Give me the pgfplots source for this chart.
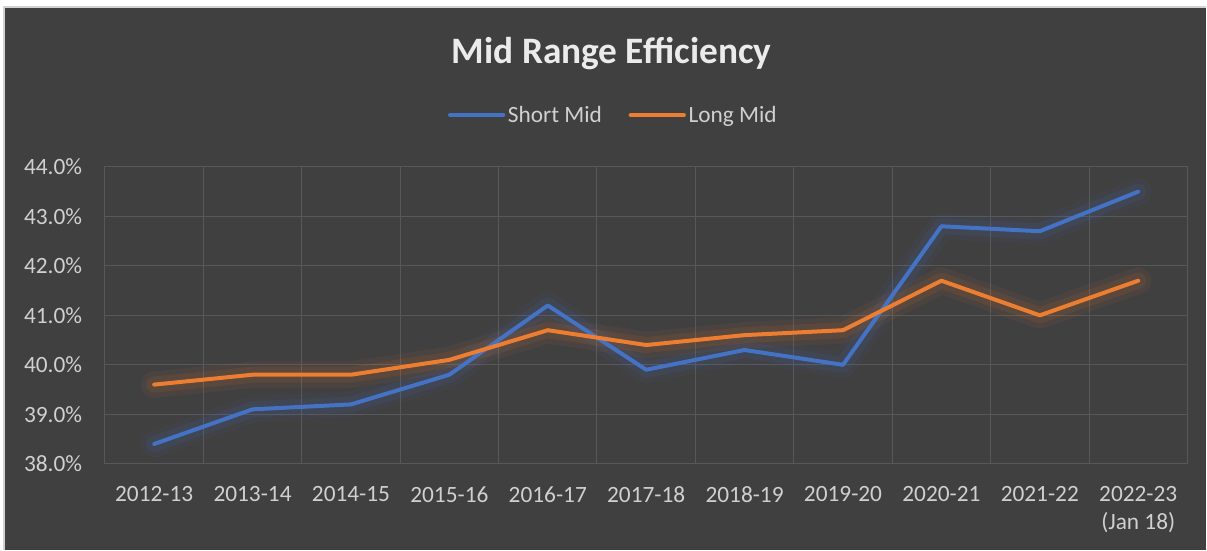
\documentclass[border=0pt]{standalone}
\usepackage{pgfplots}
\pgfplotsset{compat=1.18}
\usepackage{fontspec}
\setmainfont{Carlito}
\definecolor{bg}{HTML}{404040}
\definecolor{gridc}{HTML}{585858}
\definecolor{txt}{HTML}{D0D0D0}
\definecolor{sblue}{HTML}{4472C4}
\definecolor{lorange}{HTML}{ED7D31}
\begin{document}
\begin{tikzpicture}
\fill[white] (0,0) rectangle (905.25pt,412.5pt);
\fill[bg] (3pt,0) rectangle (905.25pt,407.25pt);
\draw[gray!35, line width=0.9pt] (3pt,0) -- (3pt,407.25pt) -- (905.25pt,407.25pt);
\begin{axis}[
  at={(78.75pt,64.5pt)}, anchor=south west,
  scale only axis, width=812.25pt, height=222.75pt,
  xmin=-0.5, xmax=10.5, ymin=38, ymax=44,
  ytick={38,39,...,44},
  xtick={0,...,10},
  xticklabels={2012-13,2013-14,2014-15,2015-16,2016-17,2017-18,2018-19,2019-20,2020-21,2021-22,{2022-23\\(Jan 18)}},
  minor xtick={-0.5,0.5,...,10.5},
  xminorgrids, ymajorgrids,
  major tick length=0pt, minor tick length=0pt,
  grid style={gridc, line width=0.75pt},
  minor grid style={gridc, line width=0.75pt},
  axis line style={gridc, line width=0.75pt},
  /pgf/number format/assume math mode=true,
  yticklabel={\pgfmathprintnumber[fixed,fixed zerofill,precision=1]{\tick}\%},
  tick label style={font=\fontsize{17.5}{21}\selectfont, text=txt},
  y tick label style={anchor=east, inner sep=0pt, xshift=-17pt},
  x tick label style={anchor=north, inner sep=0pt, yshift=-17pt, align=center},
  title={Mid Range Efficiency},
  title style={at={(0.468,1.355)}, anchor=center, font=\fontsize{28}{32}\selectfont\bfseries, text=white!92!black},
  legend style={at={(0.47,1.175)}, anchor=center, legend columns=2, draw=none, fill=none,
    text=txt, font=\fontsize{17.5}{21}\selectfont,
    nodes={inner sep=2pt},
    /tikz/every even column/.append style={column sep=18pt}},
  legend image code/.code={\draw[#1, line width=3pt, line cap=round] (0pt,0pt) -- (40pt,0pt);},
]
\pgfplotstableread{
x s l
0 38.4 39.6
1 39.1 39.8
2 39.2 39.8
3 39.8 40.1
4 41.2 40.7
5 39.9 40.4
6 40.3 40.6
7 40.0 40.7
8 42.8 41.7
9 42.7 41.0
10 43.5 41.7
}\datatab
\addplot[sblue, line width=20pt, opacity=0.06, line join=round, line cap=round, forget plot] table[x=x,y=s] {\datatab};
\addplot[sblue, line width=12pt, opacity=0.1, line join=round, line cap=round, forget plot] table[x=x,y=s] {\datatab};
\addplot[lorange, line width=20pt, opacity=0.06, line join=round, line cap=round, forget plot] table[x=x,y=l] {\datatab};
\addplot[lorange, line width=12pt, opacity=0.1, line join=round, line cap=round, forget plot] table[x=x,y=l] {\datatab};
\addplot[sblue, line width=3pt, line join=round, line cap=round] table[x=x,y=s] {\datatab};
\addlegendentry{Short Mid}
\addplot[lorange, line width=3pt, line join=round, line cap=round] table[x=x,y=l] {\datatab};
\addlegendentry{Long Mid}
\end{axis}
\end{tikzpicture}
\end{document}
